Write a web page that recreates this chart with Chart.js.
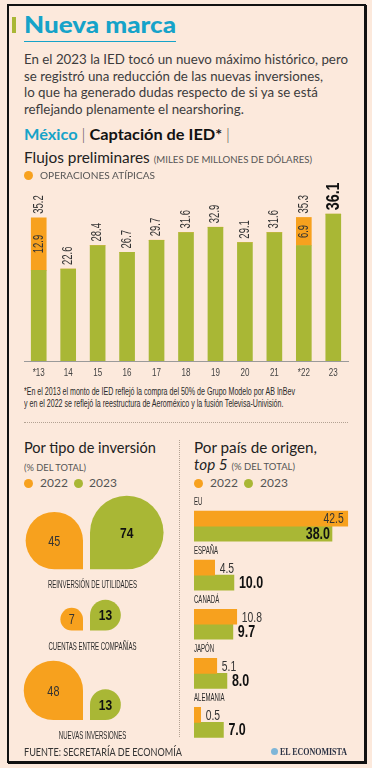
<!DOCTYPE html>
<html><head><meta charset="utf-8">
<script src="https://cdn.jsdelivr.net/npm/chart.js@4.4.1/dist/chart.umd.min.js"></script>
<style>
html,body{margin:0;padding:0;background:#fce9dc;}
body{width:372px;height:768px;position:relative;overflow:hidden;font-family:Lato,"Open Sans",sans-serif;color:#333;}
.frame{position:absolute;left:7px;top:4px;width:355px;height:755px;border:2px solid #111;box-shadow:1px 1px 0 #111;}
.abs{position:absolute;white-space:nowrap;}
.dot{width:9px;height:9px;border-radius:50%;}
canvas{position:absolute;}
</style></head>
<body>
<div class="frame"></div>
<canvas id="c1" style="left:0;top:170px" width="372" height="215"></canvas>
<canvas id="c2" style="left:0;top:490px" width="180" height="255"></canvas>
<canvas id="c3" style="left:180px;top:490px" width="185" height="257"></canvas>

<div class="abs" style="left:12px;top:17px;width:4px;height:16px;background:#a9b735"></div>
<div class="abs" data-w="152" style="left:24px;top:14px;font:900 22px/22px Lato,sans-serif;color:#16a3c9">Nueva marca</div>
<div class="abs" style="left:24px;top:41px;width:152px;height:1px;background:#16a3c9"></div>
<div class="abs" data-w="324" style="left:24px;top:51px;font:400 14px/16.5px Lato,sans-serif;color:#3c3c3c">En el 2023 la IED tocó un nuevo máximo histórico, pero<br>se registró una reducción de las nuevas inversiones,<br>lo que ha generado dudas respecto de si ya se está<br>reflejando plenamente el nearshoring.</div>
<div class="abs" data-w="206" style="left:24px;top:127px;font:700 15px/15px Lato,sans-serif;color:#111"><span style="color:#16a3c9">México</span> <span style="font-weight:300;color:#555">|</span> Captación de IED* <span style="font-weight:300;color:#555">|</span></div>
<div class="abs" data-w="288" style="left:24px;top:149px;font:400 16px/16px Lato,sans-serif;color:#222">Flujos preliminares <span style="font-size:10px;color:#555">(MILES DE MILLONES DE DÓLARES)</span></div>
<div class="abs dot" style="left:24px;top:171px;background:#f7a11e"></div>
<div class="abs" data-w="115" style="left:40px;top:170px;font:400 10px/10px Lato,sans-serif;color:#555">OPERACIONES ATÍPICAS</div>

<div class="abs" data-w="271" style="left:24px;top:385px;font:400 10.5px/12px 'Liberation Sans',Arial,sans-serif;color:#2a2a2a">*En el 2013 el monto de IED reflejó la compra del 50% de Grupo Modelo por AB InBev<br>y en el 2022 se reflejó la reestructura de Aeroméxico y la fusión Televisa-Univisión.</div>
<div class="abs" style="left:24px;top:422px;width:324px;border-top:1px dotted #b3a293"></div>
<div class="abs" style="left:179px;top:440px;height:297px;border-left:1px dotted #b3a293"></div>

<div class="abs" data-w="132" style="left:24px;top:439px;font:400 16px/16px Lato,sans-serif;color:#222">Por tipo de inversión</div>
<div class="abs" data-w="62" style="left:24px;top:462px;font:400 10px/10px Lato,sans-serif;color:#555">(% DEL TOTAL)</div>
<div class="abs dot" style="left:24px;top:479px;background:#f7a11e"></div>
<div class="abs" style="left:40px;top:477px;font:400 12px/12px Lato,sans-serif;color:#555">2022</div>
<div class="abs dot" style="left:74px;top:479px;background:#a9b735"></div>
<div class="abs" style="left:89px;top:477px;font:400 12px/12px Lato,sans-serif;color:#555">2023</div>

<div class="abs" data-w="123" style="left:194px;top:439px;font:400 16px/16px Lato,sans-serif;color:#222">Por país de origen,</div>
<div class="abs" data-w="101" style="left:194px;top:456px;font:400 16px/16px Lato,sans-serif;color:#222"><i>top 5</i> <span style="font-size:10px;color:#555">(% DEL TOTAL)</span></div>
<div class="abs dot" style="left:194px;top:479px;background:#f7a11e"></div>
<div class="abs" style="left:210px;top:477px;font:400 12px/12px Lato,sans-serif;color:#555">2022</div>
<div class="abs dot" style="left:244px;top:479px;background:#a9b735"></div>
<div class="abs" style="left:260px;top:477px;font:400 12px/12px Lato,sans-serif;color:#555">2023</div>

<div class="abs" data-w="158" style="left:24px;top:746px;font:400 10.5px/12px Lato,sans-serif;color:#333">FUENTE: SECRETARÍA DE ECONOMÍA</div>
<div class="abs" style="left:271px;top:748px;width:7px;height:7px;border-radius:50%;background:#7fb6d8"></div>
<div class="abs" data-w="67" style="left:280px;top:746px;font:700 10px/12px 'Liberation Serif',serif;color:#2c3345">EL ECONOMISTA</div>

<script>
const years = ['*13','14','15','16','17','18','19','20','21','*22','23'];
const totalFlows = [35.2,22.6,28.4,26.7,29.7,31.6,32.9,29.1,31.6,35.3,36.1];
const atypicalFlows = [12.9,0,0,0,0,0,0,0,0,6.9,0];

const investTypes = ['REINVERSIÓN DE UTILIDADES','CUENTAS ENTRE COMPAÑÍAS','NUEVAS INVERSIONES'];
const invest2022 = [45,7,48];
const invest2023 = [74,13,13];

const countries = ['EU','ESPAÑA','CANADÁ','JAPÓN','ALEMANIA'];
const country2022 = [42.5,4.5,10.8,5.1,0.5];
const country2023 = [38.0,10.0,9.7,8.0,7.0];

const ORANGE = '#f7a11e', GREEN = '#a9b735';
const NARROW = "'Liberation Sans',Arial,sans-serif";

/* fit html text to measured widths of the original */
document.querySelectorAll('[data-w]').forEach(el=>{
  const w = el.getBoundingClientRect().width;
  el.style.transformOrigin = '0 0';
  el.style.transform = 'scaleX(' + (parseFloat(el.dataset.w)/w) + ')';
});

/* condensed canvas text */
function condText(ctx, text, x, y, opt){
  ctx.save();
  ctx.font = opt.font + ' ' + NARROW;
  ctx.fillStyle = opt.color || '#333';
  ctx.textAlign = opt.align || 'center';
  ctx.textBaseline = 'middle';
  ctx.translate(x, y);
  if (opt.rotate) ctx.rotate(opt.rotate);
  ctx.scale(opt.sx || 0.72, 1);
  ctx.fillText(text, 0, 0);
  ctx.restore();
}

/* ---------- Chart 1: flows ---------- */
const baseFlows = totalFlows.map((t,i)=> +(t - atypicalFlows[i]).toFixed(1));
const flowLabels = {
  id:'flowLabels',
  afterDatasetsDraw(chart){
    const ctx = chart.ctx, xs = chart.scales.x, ys = chart.scales.y;
    const last = totalFlows.length - 1;
    totalFlows.forEach((t,i)=>{
      const x = xs.getPixelForValue(i);
      const top = ys.getPixelForValue(t);
      condText(ctx, t.toFixed(1), x, top - 4, i === last
        ? {font:'bold 19px', color:'#111', align:'left', rotate:-Math.PI/2, sx:0.75}
        : {font:'14px', color:'#333', align:'left', rotate:-Math.PI/2, sx:0.68});
      if (atypicalFlows[i] > 0) {
        const mid = (ys.getPixelForValue(t) + ys.getPixelForValue(t - atypicalFlows[i]))/2;
        condText(ctx, atypicalFlows[i].toFixed(1), x, mid, {font:'14px', color:'#333', rotate:-Math.PI/2, sx:0.68});
      }
      condText(ctx, years[i], x, chart.chartArea.bottom + 12, {font:'11.5px', color:'#444', sx:0.7});
    });
  }
};
new Chart(document.getElementById('c1'), {
  type:'bar',
  data:{labels:years, datasets:[
    {label:'Flujos', data:baseFlows, backgroundColor:GREEN, barThickness:15, stack:'s'},
    {label:'Operaciones atípicas', data:atypicalFlows, backgroundColor:ORANGE, barThickness:15, stack:'s'}
  ]},
  options:{
    responsive:false, animation:false, events:[],
    layout:{padding:{left:24,right:24,top:8,bottom:0}},
    plugins:{legend:{display:false}, tooltip:{enabled:false}},
    scales:{
      x:{stacked:true, grid:{display:false, drawTicks:false},
         border:{display:true, color:'#9a9a9a', width:1},
         ticks:{display:false},
         afterFit(s){ s.height = 24; }},
      y:{stacked:true, display:false, min:0, max:45}
    }
  },
  plugins:[flowLabels]
});

/* ---------- Chart 2: investment type drops ---------- */
const dropTop = 29.15, dropGap = 3.55;
const rowBase = [];
{ let cur = dropTop;
  investTypes.forEach((_,i)=>{ cur -= Math.sqrt(Math.max(invest2022[i], invest2023[i])); rowBase.push(cur); cur -= dropGap; }); }
function dropRadius(ctx){
  const ys = ctx.chart.scales.y;
  const v = ctx.raw ? ctx.raw.v : 0;
  return Math.abs(ys.getPixelForValue(Math.sqrt(v)) - ys.getPixelForValue(0))/2;
}
const dropPlugin = {
  id:'drops',
  afterDatasetsDraw(chart){
    const ctx = chart.ctx;
    chart.data.datasets.forEach((ds,di)=>{
      const meta = chart.getDatasetMeta(di);
      meta.data.forEach((el,i)=>{
        const r = el.options.radius, s = 2*r;
        const left = di === 0;
        const x0 = left ? el.x - 3.5 - s : el.x + 3.5;
        const y0 = el.y - s;
        ctx.save();
        ctx.beginPath();
        ctx.fillStyle = ds.dropColor;
        ctx.roundRect(x0, y0, s, s, left ? [r,r,0,r] : [r,r,r,0]);
        ctx.fill();
        ctx.restore();
        condText(ctx, String(ds.data[i].v), x0 + r, y0 + r + 1,
          left ? {font:'15px', color:'#333', sx:0.72} : {font:'bold 15px', color:'#111', sx:0.8});
      });
    });
    const xs = chart.scales.x, ys = chart.scales.y;
    investTypes.forEach((t,i)=>{
      condText(ctx, t, xs.getPixelForValue(0) + 6, ys.getPixelForValue(rowBase[i]) + 16, {font:'11px', color:'#2a2a2a', sx:0.55});
    });
  }
};
new Chart(document.getElementById('c2'), {
  type:'scatter',
  data:{datasets:[
    {label:'2022', data:invest2022.map((v,i)=>({x:0, y:rowBase[i], v})), dropColor:ORANGE,
     pointRadius:dropRadius, pointBackgroundColor:'rgba(0,0,0,0)', pointBorderWidth:0},
    {label:'2023', data:invest2023.map((v,i)=>({x:0, y:rowBase[i], v})), dropColor:GREEN,
     pointRadius:dropRadius, pointBackgroundColor:'rgba(0,0,0,0)', pointBorderWidth:0}
  ]},
  options:{
    responsive:false, animation:false, events:[],
    layout:{padding:{left:0,right:7,top:0,bottom:0}},
    plugins:{legend:{display:false}, tooltip:{enabled:false}},
    scales:{ x:{display:false, min:-1, max:1}, y:{display:false, min:0, max:29.82} }
  },
  plugins:[dropPlugin]
});

/* ---------- Chart 3: country bars ---------- */
const countryLabels = {
  id:'countryLabels',
  afterDatasetsDraw(chart){
    const ctx = chart.ctx, ys = chart.scales.y, area = chart.chartArea;
    countries.forEach((c,i)=> condText(ctx, c, area.left, ys.getPixelForValue(i) - 24, {font:'11px', color:'#2a2a2a', align:'left', sx:0.55}));
    chart.data.datasets.forEach((ds,di)=>{
      chart.getDatasetMeta(di).data.forEach((el,i)=>{
        const v = ds.data[i];
        const bold = di === 1;
        const o = bold ? {font:'bold 16px', color:'#111', sx:0.78} : {font:'14px', color:'#333', sx:0.74};
        if (el.x - el.base > 100) { o.align = 'right'; condText(ctx, v.toFixed(1), el.x - (bold ? 2 : 4), el.y + 1, o); }
        else { o.align = 'left'; condText(ctx, v.toFixed(1), el.x + 5, el.y + 1, o); }
      });
    });
  }
};
new Chart(document.getElementById('c3'), {
  type:'bar',
  data:{labels:countries, datasets:[
    {label:'2022', data:country2022, backgroundColor:ORANGE, barThickness:15, base:-1.4},
    {label:'2023', data:country2023, backgroundColor:GREEN, barThickness:15, base:-1.4}
  ]},
  options:{
    indexAxis:'y', responsive:false, animation:false, events:[],
    layout:{padding:{left:14,right:5,top:11.5,bottom:0}},
    plugins:{legend:{display:false}, tooltip:{enabled:false}},
    scales:{ x:{display:false, min:-1.4, max:46}, y:{display:false} }
  },
  plugins:[countryLabels]
});
</script>
</body></html>
